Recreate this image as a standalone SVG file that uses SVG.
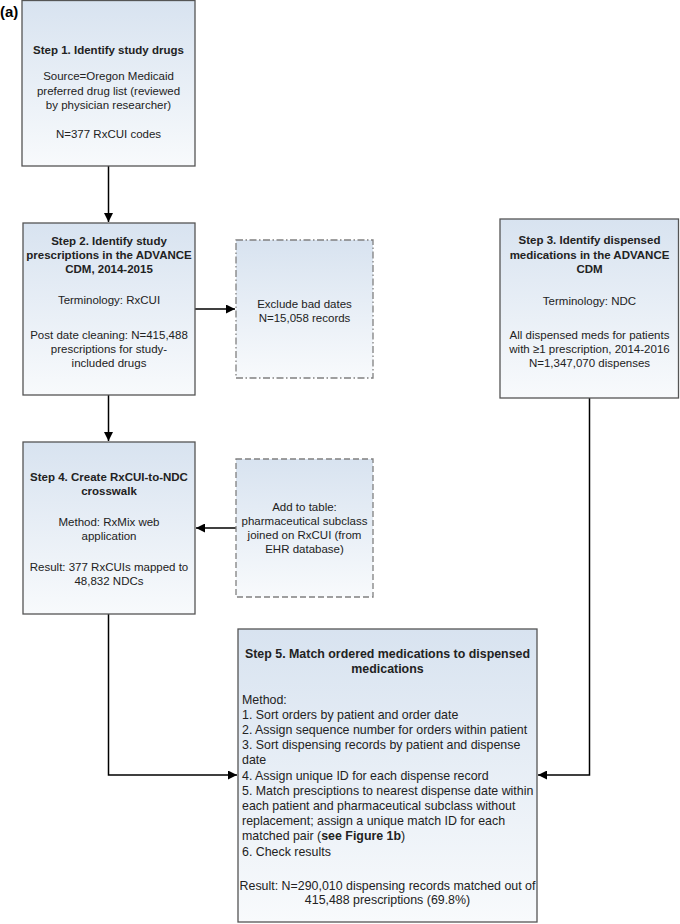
<svg xmlns="http://www.w3.org/2000/svg" width="680" height="924" viewBox="0 0 680 924">
<defs>
<linearGradient id="g" x1="0" y1="0" x2="0" y2="1">
<stop offset="0" stop-color="#d8e3f0"/>
<stop offset="1" stop-color="#f8fafc"/>
</linearGradient>
<marker id="ah" viewBox="0 0 10 10" refX="10" refY="5" markerWidth="9" markerHeight="9" markerUnits="userSpaceOnUse" orient="auto">
<path d="M0,0 L10,5 L0,10 Z" fill="#000"/>
</marker>
<style>
.box{fill:url(#g);stroke:#555;stroke-width:1.3}
.dash{fill:url(#g);stroke:#808080;stroke-width:1.3;stroke-dasharray:6,3}
.dashdot{fill:url(#g);stroke:#808080;stroke-width:1.3;stroke-dasharray:7,2.5,1.5,2.5}
text{font-family:"Liberation Sans",Arial,sans-serif;font-size:11.5px;fill:#222}
.c{text-anchor:middle}
.b{font-weight:bold}
.t5{font-size:12.4px}
.conn{fill:none;stroke:#000;stroke-width:1.5;marker-end:url(#ah)}
</style>
</defs>

<text x="0" y="17" class="b" style="font-size:15px;fill:#000">(a)</text>

<g id="connectors">
<path class="conn" d="M108.5,166 V222"/>
<path class="conn" d="M108.5,395 V441"/>
<path class="conn" d="M195,309 H235"/>
<path class="conn" d="M236,528 H196"/>
<path class="conn" d="M108.5,614 V775 H237"/>
<path class="conn" d="M589.5,398 V775 H538"/>
</g>

<g id="step1">
<rect class="box" x="22" y="0.5" width="173" height="165.5"/>
<text class="c b" x="108.5" y="54">Step 1. Identify study drugs</text>
<text class="c" x="108.5" y="80">Source=Oregon Medicaid</text>
<text class="c" x="108.5" y="94.5">preferred drug list (reviewed</text>
<text class="c" x="108.5" y="109">by physician researcher)</text>
<text class="c" x="108.5" y="138">N=377 RxCUI codes</text>
</g>

<g id="step2">
<rect class="box" x="23" y="223" width="172" height="172"/>
<text class="c b" x="109" y="245">Step 2. Identify study</text>
<text class="c b" x="109" y="259">prescriptions in the ADVANCE</text>
<text class="c b" x="109" y="273">CDM, 2014-2015</text>
<text class="c" x="109" y="304">Terminology: RxCUI</text>
<text class="c" x="109" y="339">Post date cleaning: N=415,488</text>
<text class="c" x="109" y="353">prescriptions for study-</text>
<text class="c" x="109" y="367">included drugs</text>
</g>

<g id="exclude">
<rect class="dashdot" x="236" y="240" width="137" height="138"/>
<text class="c" x="304.5" y="308">Exclude bad dates</text>
<text class="c" x="304.5" y="322">N=15,058 records</text>
</g>

<g id="step3">
<rect class="box" x="500" y="219" width="178.5" height="179"/>
<text class="c b" x="589.5" y="244">Step 3. Identify dispensed</text>
<text class="c b" x="589.5" y="259">medications in the ADVANCE</text>
<text class="c b" x="589.5" y="273">CDM</text>
<text class="c" x="589.5" y="305">Terminology: NDC</text>
<text class="c" x="589.5" y="339">All dispensed meds for patients</text>
<text class="c" x="589.5" y="353">with ≥1 prescription, 2014-2016</text>
<text class="c" x="589.5" y="367">N=1,347,070 dispenses</text>
</g>

<g id="step4">
<rect class="box" x="23" y="442" width="172" height="172"/>
<text class="c b" x="109" y="481">Step 4. Create RxCUI-to-NDC</text>
<text class="c b" x="109" y="495">crosswalk</text>
<text class="c" x="109" y="526">Method: RxMix web</text>
<text class="c" x="109" y="540">application</text>
<text class="c" x="109" y="571">Result: 377 RxCUIs mapped to</text>
<text class="c" x="109" y="585">48,832 NDCs</text>
</g>

<g id="addtable">
<rect class="dash" x="236" y="459" width="137" height="138"/>
<text class="c" x="304.5" y="511">Add to table:</text>
<text class="c" x="304.5" y="525">pharmaceutical subclass</text>
<text class="c" x="304.5" y="539">joined on RxCUI (from</text>
<text class="c" x="304.5" y="553">EHR database)</text>
</g>

<g id="step5">
<rect class="box" x="238" y="629" width="299" height="293"/>
<text class="c b t5" x="387.5" y="657.5">Step 5. Match ordered medications to dispensed</text>
<text class="c b t5" x="387.5" y="672.5">medications</text>
<text class="t5" x="242" y="703.5">Method:</text>
<text class="t5" x="242" y="718.7">1. Sort orders by patient and order date</text>
<text class="t5" x="242" y="733.9">2. Assign sequence number for orders within patient</text>
<text class="t5" x="242" y="749.1">3. Sort dispensing records by patient and dispense</text>
<text class="t5" x="242" y="764.3">date</text>
<text class="t5" x="242" y="779.5">4. Assign unique ID for each dispense record</text>
<text class="t5" x="242" y="794.7">5. Match presciptions to nearest dispense date within</text>
<text class="t5" x="242" y="809.9">each patient and pharmaceutical subclass without</text>
<text class="t5" x="242" y="825.1">replacement; assign a unique match ID for each</text>
<text class="t5" x="242" y="840.3">matched pair (<tspan class="b">see Figure 1b</tspan>)</text>
<text class="t5" x="242" y="855.5">6. Check results</text>
<text class="c t5" x="387.5" y="889.5">Result: N=290,010 dispensing records matched out of</text>
<text class="c t5" x="387.5" y="904">415,488 prescriptions (69.8%)</text>
</g>
</svg>
